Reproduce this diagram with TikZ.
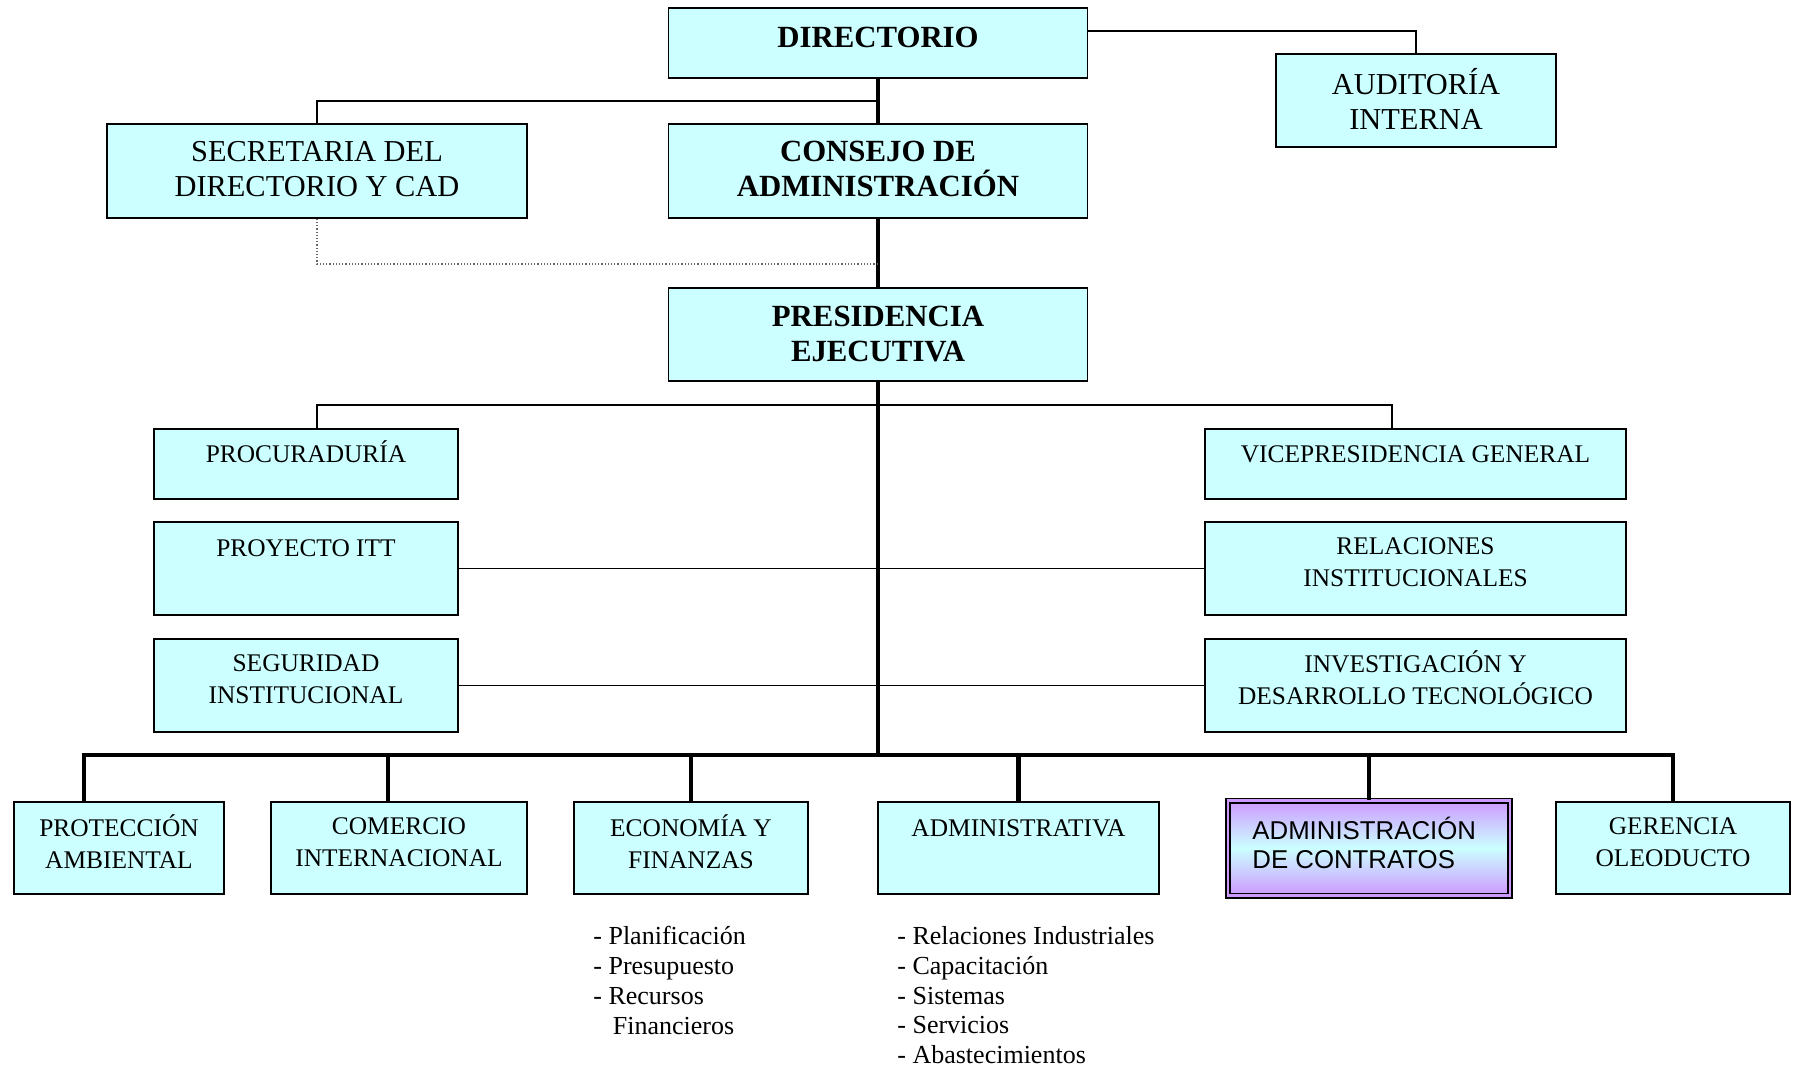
\documentclass[tikz,border=0pt]{standalone}
\usepackage{fontspec}
\setmainfont{Liberation Serif}
\newfontfamily\arialfont{Liberation Sans}
\definecolor{celeste}{RGB}{204,255,255}
\definecolor{lila}{RGB}{204,153,255}
\tikzset{
    caja/.style={draw, line width=0.8pt, fill=celeste, inner sep=0pt},
    texto/.style={font=\fontsize{12.7}{16}\selectfont, align=center, inner sep=0pt},
    grande/.style={font=\fontsize{15.2}{17.5}\selectfont, align=center, inner sep=0pt},
    titulo/.style={font=\fontsize{15.4}{17.8}\selectfont\bfseries, align=center, inner sep=0pt},
    lista/.style={font=\fontsize{13}{14.9}\selectfont, align=left, inner sep=0pt, anchor=north west},
    grueso/.style={line width=2.4pt},
    fino/.style={line width=0.75pt},
}
\begin{document}
\begin{tikzpicture}[x=0.5pt, y=-0.5pt]
\useasboundingbox (0,0) rectangle (1798,1068);

% directorio y consejo
\node[caja, minimum width=209.5pt, minimum height=35pt] (dir) at (878,43) {};
\node[titulo] (dir-t) at (878,37) {DIRECTORIO};
\node[caja, minimum width=140pt, minimum height=46.5pt] (aud) at (1416,100.5) {};
\node[grande] (aud-t) at (1416,99) {AUDITORÍA\\INTERNA};
\node[caja, minimum width=210pt, minimum height=47pt] (sec) at (317,171) {};
\node[grande] (sec-t) at (317,169) {SECRETARIA DEL\\DIRECTORIO Y CAD};
\node[caja, minimum width=209.5pt, minimum height=47pt] (cons) at (878,171) {};
\node[titulo] (cons-t) at (878,169) {CONSEJO DE\\ADMINISTRACIÓN};
\node[caja, minimum width=209.5pt, minimum height=46.5pt] (pres) at (878,334.5) {};
\node[titulo] (pres-t) at (878,334) {PRESIDENCIA\\EJECUTIVA};

% asesoria y apoyo
\foreach \n/\x/\y/\w/\h/\ty/\t in {
    proc/306/464/152/35/452/{PROCURADURÍA},
    itt/306/568.5/152/46.5/548/{PROYECTO ITT},
    seg/306/685.5/152/46.5/679/{SEGURIDAD\\INSTITUCIONAL},
    vice/1415.5/464/210.5/35/454/{VICEPRESIDENCIA GENERAL},
    rel/1415.5/568.5/210.5/46.5/562/{RELACIONES\\INSTITUCIONALES},
    inv/1415.5/685.5/210.5/46.5/678/{INVESTIGACIÓN Y\\DESARROLLO TECNOLÓGICO}}
{
    \node[caja, minimum width=\w pt, minimum height=\h pt] (\n) at (\x,\y) {};
    \node[texto] (\n-t) at (\x,\ty) {\t};
}

% gerencias
\foreach \n/\x/\w/\ty/\t in {
    prot/119/105/842/{PROTECCIÓN\\AMBIENTAL},
    com/399/128/842/{COMERCIO\\INTERNACIONAL},
    eco/691/117/842/{ECONOMÍA Y\\FINANZAS},
    adm/1018.5/140.5/828/{ADMINISTRATIVA},
    ger/1673/117/842/{GERENCIA\\OLEODUCTO}}
{
    \node[caja, minimum width=\w pt, minimum height=46pt] (\n) at (\x,848) {};
    \node[texto] (\n-t) at (\x,\ty) {\t};
}
\node[draw, line width=0.8pt, double=lila, double distance=1.4pt, top color=lila, bottom color=lila, middle color=celeste,
      minimum width=141pt, minimum height=47.5pt, inner sep=0pt] (cont) at (1369,848) {};
\node[font=\arialfont\fontsize{12.9}{14.5}\selectfont, align=left, anchor=west, inner sep=0pt] (cont-t) at (1252,843) {ADMINISTRACIÓN\\DE CONTRATOS};

\node[lista] (eco-l) at (593,926) {- Planificación\\- Presupuesto\\- Recursos\\\hspace*{0.75em}Financieros};
\node[lista] (adm-l) at (897,926) {- Relaciones Industriales\\- Capacitación\\- Sistemas\\- Servicios\\- Abastecimientos};

% lineas
\coordinate (rSec) at (878,101);
\coordinate (pSec) at (878,264);
\coordinate (rA) at (317,405);
\coordinate (rB) at (1392,405);
\coordinate (bIzq) at (84,755);
\coordinate (bDer) at (1673,755);

\draw[grueso] (dir.south) -- (cons.north);
\draw[grueso] (cons.south) -- (pres.north);
\draw[grueso] (pres.south) -- (pres.south |- bIzq);
\draw[fino] (rSec) -| (sec.north);
\draw[fino] ([yshift=6pt]dir.east) -| (aud.north);
\draw[line width=0.6pt, densely dotted, black!60] (sec.south) |- (pSec);
\draw[fino] (proc.north -| rA) -- (rA) -- (rB) -- (vice.north -| rB);
\draw[fino] (itt.east) -- (rel.west);
\draw[fino] (seg.east) -- (inv.west);
\draw[grueso] (prot.north -| bIzq) -- (bIzq) -- (bDer) -- (ger.north -| bDer);
\foreach \n/\x in {com/388, eco/691, adm/1018.5, cont/1369}
    \draw[grueso] (\x,755) -- (\n.north -| \x,755);
\end{tikzpicture}
\end{document}
